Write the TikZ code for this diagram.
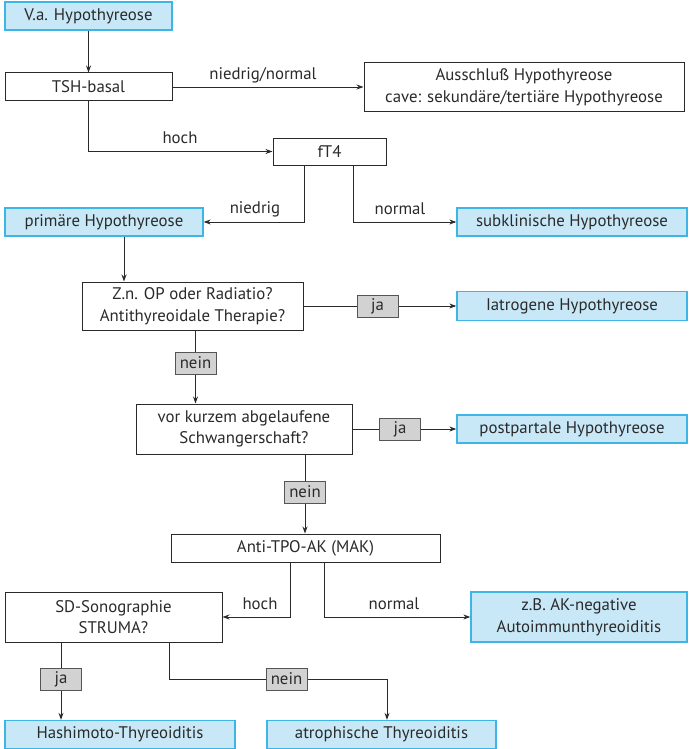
\documentclass[tikz,border=0pt]{standalone}
\usepackage{fontspec}
\setmainfont{PT Sans}
\usetikzlibrary{arrows.meta}
\definecolor{bluefill}{HTML}{C8E8F8}
\definecolor{blueline}{HTML}{3DB5E6}
\definecolor{grayfill}{HTML}{D2D2D2}
\definecolor{ink}{HTML}{2A2A2A}
\tikzset{
  base/.style={inner sep=0pt, align=center, text=ink, font=\fontsize{16.8}{21.5}\selectfont},
  whitebox/.style={base, draw=ink, line width=1pt, fill=white},
  bluebox/.style={base, draw=blueline, line width=1.3pt, fill=bluefill},
  tag/.style={base, draw=ink!80, line width=1pt, fill=grayfill, minimum width=41pt, minimum height=22pt},
  lbl/.style={base},
  conn/.style={draw=ink, line width=0.9pt},
  arr/.style={conn, -{Stealth[length=7pt,width=5pt]}}
}
\begin{document}
\begin{tikzpicture}[x=1pt,y=-1pt]
\useasboundingbox (0,0) rectangle (689,749);
% boxes
\node[bluebox, minimum width=167pt, minimum height=28pt] (va) at (88.5,16) {V.a. Hypothyreose};
\node[whitebox, minimum width=167pt, minimum height=28pt] (tsh) at (88.5,87) {TSH-basal};
\node[whitebox, minimum width=320pt, minimum height=49pt] (aus) at (524,87.5) {Ausschluß Hypothyreose\\cave: sekundäre/tertiäre Hypothyreose};
\node[whitebox, minimum width=113pt, minimum height=27pt] (ft4) at (329.5,151.5) {fT4};
\node[bluebox, minimum width=198pt, minimum height=28pt] (prim) at (104,222) {primäre Hypothyreose};
\node[bluebox, minimum width=230pt, minimum height=28pt] (subk) at (572,222) {subklinische Hypothyreose};
\node[whitebox, minimum width=221pt, minimum height=48pt] (znop) at (192.5,306) {Z.n. OP oder Radiatio?\\Antithyreoidale Therapie?};
\node[bluebox, minimum width=230pt, minimum height=29pt] (iatro) at (572,306) {Iatrogene Hypothyreose};
\node[whitebox, minimum width=216pt, minimum height=50pt] (vor) at (244,429) {vor kurzem abgelaufene\\Schwangerschaft?};
\node[bluebox, minimum width=230pt, minimum height=28pt] (post) at (572,429) {postpartale Hypothyreose};
\node[whitebox, minimum width=269pt, minimum height=28pt] (anti) at (305.5,548) {Anti-TPO-AK (MAK)};
\node[whitebox, minimum width=217pt, minimum height=50pt] (sd) at (113.5,617) {SD-Sonographie\\STRUMA?};
\node[bluebox, minimum width=216pt, minimum height=50pt] (zb) at (579,617) {z.B. AK-negative\\Autoimmunthyreoiditis};
\node[bluebox, minimum width=230pt, minimum height=28pt] (hash) at (120,734.5) {Hashimoto-Thyreoiditis};
\node[bluebox, minimum width=229pt, minimum height=28pt] (atro) at (381.5,734.5) {atrophische Thyreoiditis};
% tags
\node[tag] (ja1) at (377.5,306) {ja};
\node[tag] (nein1) at (195.5,363) {nein};
\node[tag] (ja2) at (400,429) {ja};
\node[tag] (nein2) at (305,492) {nein};
\node[tag] (ja3) at (61,679) {ja};
\node[tag] (nein3) at (286.5,679) {nein};
% labels
\node[lbl] (l1) at (263,75) {niedrig/normal};
\node[lbl] (l2) at (180,138) {hoch};
\node[lbl] (l3) at (255,209) {niedrig};
\node[lbl] (l4) at (400,209) {normal};
\node[lbl] (l5) at (260,604) {hoch};
\node[lbl] (l6) at (394,604) {normal};
% connectors
\draw[arr] (va) -- (tsh);
\draw[arr] (tsh.east) -- (tsh.east -| aus.west);
\draw[arr] (tsh.south) |- (ft4.west);
\draw[arr] ([xshift=-25.5pt]ft4.south) |- (prim.east);
\draw[arr] ([xshift=23.5pt]ft4.south) |- (subk.west);
\draw[arr] ([xshift=20pt]prim.south) -- ([xshift=20pt]prim.south |- znop.north);
\draw[conn] (znop) -- (ja1);
\draw[arr] (ja1) -- (iatro);
\draw[conn] (znop.south -| nein1) -- (nein1);
\draw[arr] (nein1) -- (nein1 |- vor.north);
\draw[conn] (vor) -- (ja2);
\draw[arr] (ja2) -- (post);
\draw[conn] (vor.south -| nein2) -- (nein2);
\draw[arr] (nein2) -- (nein2 |- anti.north);
\draw[arr] ([xshift=-15.5pt]anti.south) |- (sd.east);
\draw[arr] ([xshift=18.5pt]anti.south) |- (zb.west);
\draw[conn] (sd.south -| ja3) -- (ja3);
\draw[arr] (ja3) -- (ja3 |- hash.north);
\draw[conn] ([xshift=55.5pt]sd.south) |- (nein3.west);
\draw[arr] (nein3.east) -| ([xshift=5.5pt]atro.north);
\end{tikzpicture}
\end{document}
